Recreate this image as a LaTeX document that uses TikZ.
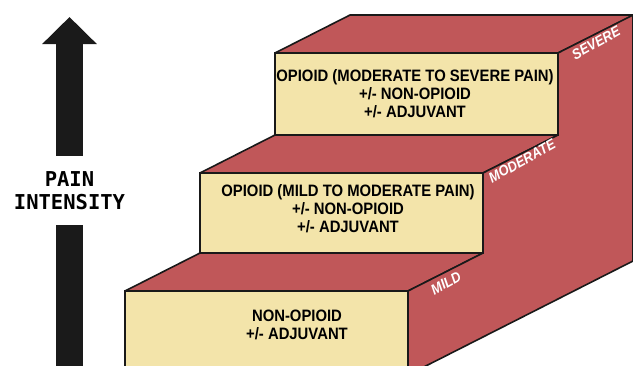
\documentclass[tikz,border=0pt]{standalone}
\usepackage{fontspec}
\setmainfont{Liberation Sans}[FakeStretch=0.9]
\newfontfamily\painfont{DejaVu Sans Mono}
\usetikzlibrary{arrows.meta}
\definecolor{stepred}{HTML}{C05759}
\definecolor{stepyellow}{HTML}{F3E4AA}
\definecolor{arrowblack}{HTML}{1A1A1A}

\begin{document}
\begin{tikzpicture}[x=1pt,y=-1pt,
    tread/.style={fill=stepred,draw=black!90,line width=1.6pt,line join=round},
    riser/.style={fill=stepyellow,draw=black!90,line width=1.6pt},
    steptext/.style={align=center,font=\bfseries\fontsize{16.5}{18}\selectfont},
    sidelabel/.style={text=white,inner sep=1pt,font=\bfseries\itshape\fontsize{14.5}{14.5}\selectfont,rotate=29},
    painarrow/.style={arrowblack,line width=27pt}]
    \useasboundingbox (0,0) rectangle (633,365);
    \clip (0,0) rectangle (633,365);

    % treads and side
    \draw[tread] (275,53) -- (350,15) -- (634,15) -- (558,53) -- cycle;
    \draw[tread] (200,173) -- (275,135) -- (558,135) -- (483,173) -- cycle;
    \draw[tread] (125,291) -- (200,253) -- (483,253) -- (408,291) -- cycle;
    \draw[tread] (408,375) -- (408,291) -- (483,253) -- (483,173) -- (558,135)
        -- (558,53) -- (633,15) -- (633,261) -- cycle;

    % risers
    \draw[riser] (275,53) rectangle (558,135);
    \draw[riser] (200,173) rectangle (483,253);
    \draw[riser] (125,291) rectangle (408,385);

    \node [steptext] (severe) at (415,94) {OPIOID (MODERATE TO SEVERE PAIN)\\+/- NON-OPIOID\\+/- ADJUVANT};
    \node [steptext] (moderate) at (348,209) {OPIOID (MILD TO MODERATE PAIN)\\+/- NON-OPIOID\\+/- ADJUVANT};
    \node [steptext] (mild) at (297,325) {NON-OPIOID\\+/- ADJUVANT};

    \node [sidelabel] (lsevere) at (596,43) {SEVERE};
    \node [sidelabel] (lmoderate) at (522,161) {MODERATE};
    \node [sidelabel] (lmild) at (446,283) {MILD};

    % pain arrow
    \node [align=center,inner sep=0pt,minimum height=69pt,
        font=\painfont\bfseries\fontsize{20.5}{23}\selectfont] (pain) at (69.5,190.5) {PAIN\\INTENSITY};
    \coordinate (tip) at (69.5,17);
    \coordinate (foot) at (69.5,370);
    \draw[painarrow,-{Triangle[width=53pt,length=27pt]}] (pain.north) -- (tip);
    \draw[painarrow] (pain.south) -- (foot);

\end{tikzpicture}
\end{document}
